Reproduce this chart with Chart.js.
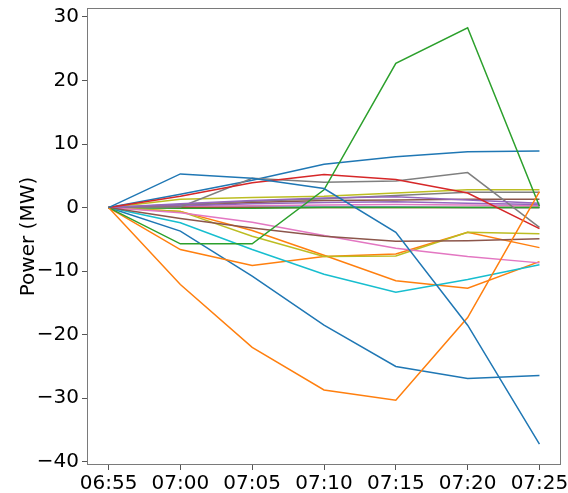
<!DOCTYPE html>
<html>
<head>
<meta charset="utf-8">
<script src="https://cdn.jsdelivr.net/npm/chart.js@4/dist/chart.umd.min.js"></script>
<style>
  html, body { margin: 0; padding: 0; background: #fff; }
</style>
</head>
<body>
<canvas id="powerChart" width="568" height="493"></canvas>
<script>
// horas de la ventana
const xLabels = ["06:55", "07:00", "07:05", "07:10", "07:15", "07:20", "07:25"];
const yTicks = [-40, -30, -20, -10, 0, 10, 20, 30];

// colores tipo tab10
const tab10 = ["#1f77b4", "#ff7f0e", "#2ca02c", "#d62728", "#9467bd",
               "#8c564b", "#e377c2", "#7f7f7f", "#bcbd22", "#17becf"];

// primera vuelta de colores
const blueDrop   = [0, 5.3, 4.6, 3.0, -3.9, -18.5, -37.2];
const orangeBig  = [0, -12.1, -22.0, -28.7, -30.3, -17.3, 2.5];
const greenPeak  = [0, -5.7, -5.7, 2.8, 22.7, 28.3, 0.2];
const redArc     = [0, 1.8, 3.9, 5.2, 4.4, 2.3, -3.3];
const purpleA    = [0, 0.6, 1.1, 1.5, 1.7, 1.2, 0.7];
const brownNeg   = [0, -1.7, -3.2, -4.5, -5.3, -5.2, -4.9];
const pinkNeg    = [0, -0.8, -2.3, -4.4, -6.4, -7.7, -8.7];
const grayArc    = [0, 0.1, 4.6, 4.0, 4.2, 5.5, -3.1];
const oliveNeg   = [0, -0.6, -4.5, -7.7, -7.6, -3.9, -4.1];
const cyanNeg    = [0, -2.4, -6.6, -10.5, -13.3, -11.3, -9.0];

// segunda vuelta
const blueTop    = [0, 2.1, 4.3, 6.8, 8.0, 8.8, 8.9];
const orangeMid  = [0, -6.6, -9.1, -7.7, -7.3, -3.9, -6.3];
const greenFlat  = [0, -0.1, -0.1, 0, 0, 0, 0];
const redFlat    = [0, 0, 0, 0, 0, 0, 0];
const purpleB    = [0, 0.3, 0.6, 0.8, 0.9, 0.7, 0.5];
const brownFlat  = [0, 0.3, 0.8, 1.1, 1.2, 1.3, 1.3];
const pinkFlat   = [0, 0.2, 0.3, 0.4, 0.5, 0.4, 0.3];
const grayFlat   = [0, 0.5, 1.0, 1.4, 1.9, 2.4, 2.4];
const oliveTop   = [0, 1.3, 1.6, 1.8, 2.3, 2.8, 2.8];
const cyanFlat   = [0, 0, 0.1, 0.1, 0.1, 0, 0];

// tercera vuelta
const blueLow    = [0, -3.7, -10.8, -18.5, -25.0, -26.9, -26.4];
const orangeLow  = [0, -0.6, -3.6, -7.5, -11.5, -12.7, -8.5];

const series = [
  blueDrop, orangeBig, greenPeak, redArc, purpleA, brownNeg, pinkNeg, grayArc, oliveNeg, cyanNeg,
  blueTop, orangeMid, greenFlat, redFlat, purpleB, brownFlat, pinkFlat, grayFlat, oliveTop, cyanFlat,
  blueLow, orangeLow
];

const datasets = series.map((vals, i) => ({
  data: vals.map((v, k) => ({ x: k, y: v })),
  borderColor: tab10[i % 10],
  borderWidth: 1.5,
  pointRadius: 0,
  fill: false,
  tension: 0
}));

// marco completo como en matplotlib
const framePlugin = {
  id: "frame",
  afterDatasetsDraw(chart) {
    const { ctx, chartArea: a } = chart;
    ctx.save();
    ctx.strokeStyle = "#7a7a7a";
    ctx.lineWidth = 1;
    ctx.strokeRect(a.left + 0.5, a.top + 0.5, a.right - a.left - 1, a.bottom - a.top - 1);
    ctx.restore();
  }
};

const font = { family: "DejaVu Sans", size: 20 };

new Chart(document.getElementById("powerChart").getContext("2d"), {
  type: "line",
  data: { datasets },
  plugins: [framePlugin],
  options: {
    responsive: false,
    animation: false,
    layout: { padding: { top: 8, right: 7, left: 0, bottom: 0 } },
    plugins: {
      legend: { display: false },
      tooltip: { enabled: false }
    },
    scales: {
      x: {
        type: "linear",
        min: -0.3,
        max: 6.3,
        afterBuildTicks: s => { s.ticks = xLabels.map((_, i) => ({ value: i })); },
        afterFit: s => { s.height = 28; s.paddingLeft = 0; s.paddingRight = 0; },
        ticks: {
          color: "#000",
          font,
          padding: 2,
          maxRotation: 0,
          autoSkip: false,
          callback: v => xLabels[v]
        },
        grid: { drawOnChartArea: false, tickLength: 5, tickColor: "#555" },
        border: { display: false }
      },
      y: {
        min: -40.5,
        max: 31.4,
        afterBuildTicks: s => { s.ticks = yTicks.map(v => ({ value: v })); },
        afterFit: s => { s.width = 87; s.paddingTop = 0; s.paddingBottom = 0; },
        ticks: {
          color: "#000",
          font,
          padding: 3,
          callback: v => String(v).replace("-", "\u2212")
        },
        grid: { drawOnChartArea: false, tickLength: 5, tickColor: "#555" },
        border: { display: false },
        title: {
          display: true,
          text: "Power (MW)",
          color: "#000",
          font,
          padding: { top: 17, bottom: 0 }
        }
      }
    }
  }
});
</script>
</body>
</html>
